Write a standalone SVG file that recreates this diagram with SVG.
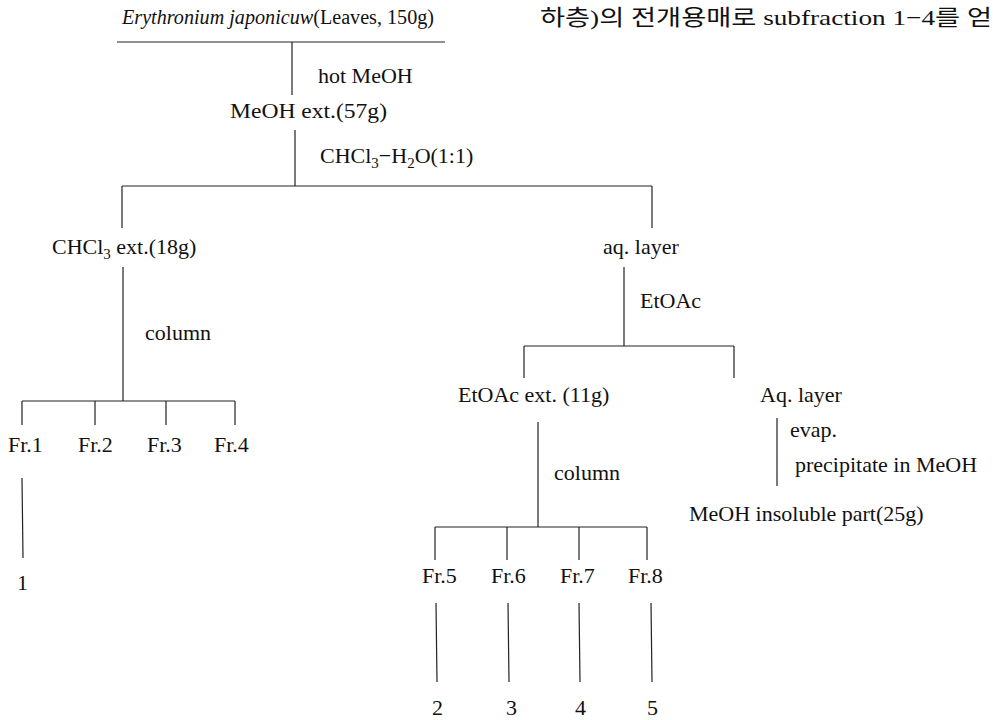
<svg xmlns="http://www.w3.org/2000/svg" width="993" height="720" viewBox="0 0 993 720">
<style>
text{font-family:"Liberation Serif","Noto Sans CJK KR",serif;font-size:22px;fill:#111}
.t{font-size:20px}
.s{font-size:15px}
.c line{stroke:#222;stroke-width:1.2}
</style>
<rect width="993" height="720" fill="#fff"/>
<g id="korean"><text x="540" y="25" textLength="452" lengthAdjust="spacingAndGlyphs">하층)의 전개용매로 subfraction 1−4를 얻</text></g>
<g id="source"><text class="t" x="122" y="24" textLength="312" lengthAdjust="spacingAndGlyphs"><tspan font-style="italic">Erythronium japonicuw</tspan>(Leaves, 150g)</text></g>
<g id="meoh"><text x="230" y="118" textLength="157" lengthAdjust="spacingAndGlyphs">MeOH ext.(57g)</text></g>
<g id="lbl-hot"><text x="318" y="83">hot MeOH</text></g>
<g id="lbl-part"><text x="320" y="163">CHCl<tspan class="s" dy="5">3</tspan><tspan dy="-5">−H</tspan><tspan class="s" dy="5">2</tspan><tspan dy="-5">O(1:1)</tspan></text></g>
<g id="chcl3"><text x="52" y="254">CHCl<tspan class="s" dy="5">3</tspan><tspan dy="-5"> ext.(18g)</tspan></text></g>
<g id="aq1"><text x="603" y="254">aq. layer</text></g>
<g id="lbl-col1"><text x="145" y="340">column</text></g>
<g id="lbl-etoac"><text x="640" y="308">EtOAc</text></g>
<g id="fr1"><text x="8" y="452">Fr.1</text></g>
<g id="fr2"><text x="78" y="452">Fr.2</text></g>
<g id="fr3"><text x="147" y="452">Fr.3</text></g>
<g id="fr4"><text x="214" y="452">Fr.4</text></g>
<g id="c1"><text x="17" y="590">1</text></g>
<g id="etoac"><text x="458" y="402">EtOAc ext. (11g)</text></g>
<g id="aq2"><text x="760" y="402">Aq. layer</text></g>
<g id="lbl-col2"><text x="554" y="480">column</text></g>
<g id="lbl-evap"><text x="790" y="437">evap.</text></g>
<g id="lbl-prec"><text x="795" y="472">precipitate in MeOH</text></g>
<g id="insol"><text x="689" y="521">MeOH insoluble part(25g)</text></g>
<g id="fr5"><text x="422" y="583">Fr.5</text></g>
<g id="fr6"><text x="491" y="583">Fr.6</text></g>
<g id="fr7"><text x="560" y="583">Fr.7</text></g>
<g id="fr8"><text x="628" y="583">Fr.8</text></g>
<g id="c2"><text x="432" y="715">2</text></g>
<g id="c3"><text x="506" y="715">3</text></g>
<g id="c4"><text x="575" y="715">4</text></g>
<g id="c5"><text x="647" y="715">5</text></g>
<g id="connectors" class="c">
<line x1="117" y1="42" x2="445" y2="42"/>
<line x1="292" y1="42" x2="292" y2="95"/>
<line x1="295" y1="130" x2="295" y2="186"/>
<line x1="122" y1="186" x2="652" y2="186"/>
<line x1="122" y1="186" x2="122" y2="228"/>
<line x1="652" y1="186" x2="652" y2="228"/>
<line x1="123" y1="267" x2="123" y2="401"/>
<line x1="22" y1="401" x2="235" y2="401"/>
<line x1="22" y1="401" x2="22" y2="425"/>
<line x1="95" y1="401" x2="95" y2="425"/>
<line x1="166" y1="401" x2="166" y2="425"/>
<line x1="235" y1="401" x2="235" y2="425"/>
<line x1="22" y1="478" x2="23" y2="558"/>
<line x1="624" y1="267" x2="624" y2="346"/>
<line x1="524" y1="346" x2="734" y2="346"/>
<line x1="524" y1="346" x2="524" y2="378"/>
<line x1="734" y1="346" x2="734" y2="378"/>
<line x1="538" y1="422" x2="538" y2="527"/>
<line x1="435" y1="527" x2="647" y2="527"/>
<line x1="435" y1="527" x2="435" y2="560"/>
<line x1="507" y1="527" x2="507" y2="560"/>
<line x1="579" y1="527" x2="579" y2="560"/>
<line x1="647" y1="527" x2="647" y2="560"/>
<line x1="436" y1="603" x2="437" y2="682"/>
<line x1="508" y1="603" x2="509" y2="682"/>
<line x1="579" y1="603" x2="580" y2="682"/>
<line x1="651" y1="603" x2="652" y2="682"/>
<line x1="777" y1="418" x2="777" y2="486"/>
</g>
</svg>
